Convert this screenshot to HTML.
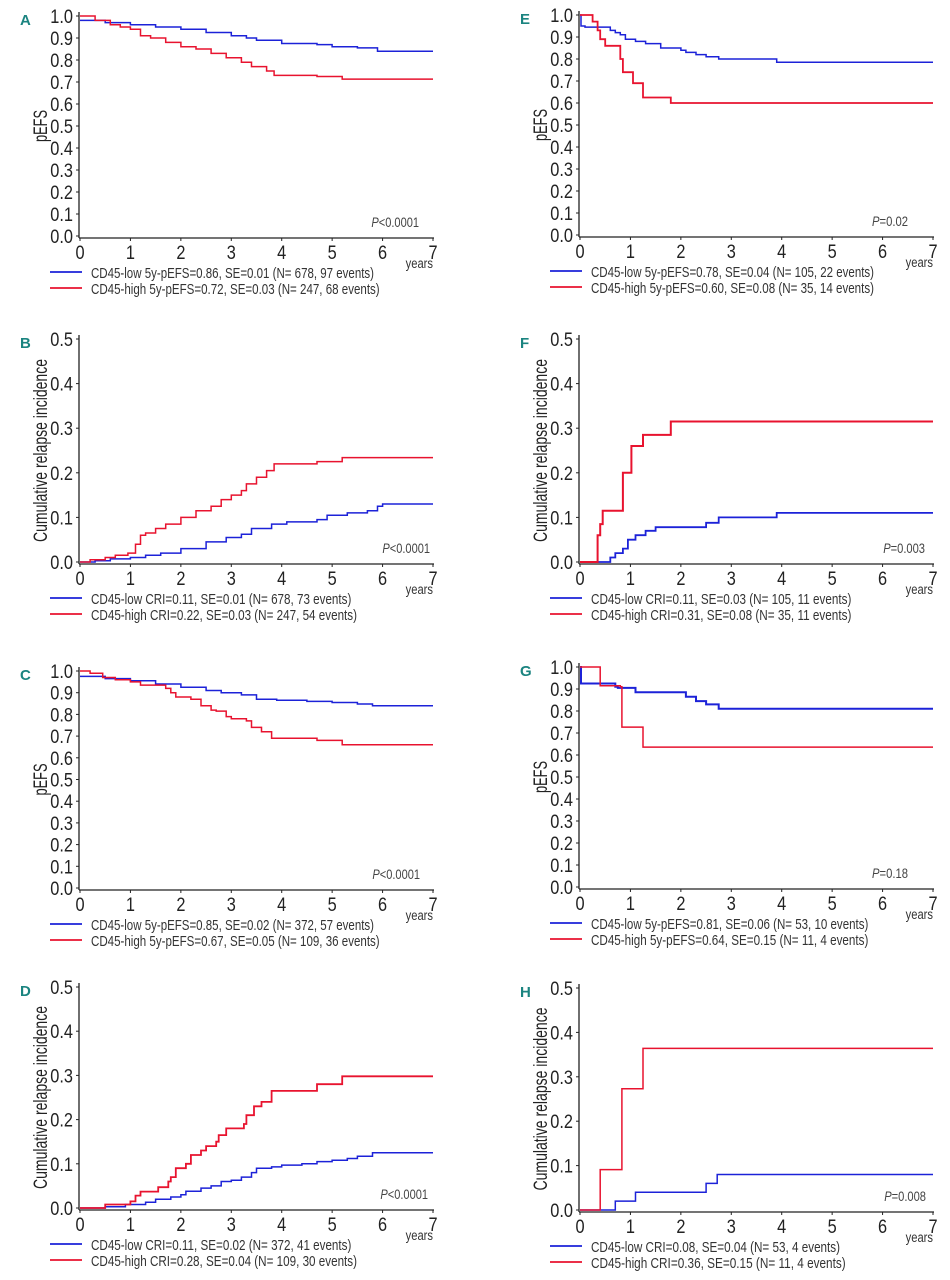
<!DOCTYPE html>
<html><head><meta charset="utf-8">
<style>
html,body{margin:0;padding:0;background:#fff;}
svg{display:block;}
text{font-family:"Liberation Sans Narrow","Liberation Sans",sans-serif;}
</style></head>
<body>
<svg id="fig" width="950" height="1280" viewBox="0 0 950 1280" xmlns="http://www.w3.org/2000/svg"></svg>
<script>
// ---- data (time in years, value) ----
const xTicks = [0,1,2,3,4,5,6,7];
const efsTicks = [0,0.1,0.2,0.3,0.4,0.5,0.6,0.7,0.8,0.9,1.0];
const criTicks = [0,0.1,0.2,0.3,0.4,0.5];

const aLowT  = [0,0.5,1,1.5,2,2.5,3,3.3,3.5,4,4.7,5,5.5,5.9,7];
const aLowV  = [0.98,0.97,0.96,0.95,0.94,0.925,0.91,0.90,0.89,0.875,0.87,0.86,0.855,0.84,0.84];
const aHighT = [0,0.3,0.6,0.8,1.0,1.2,1.4,1.7,2,2.3,2.6,2.9,3.2,3.4,3.7,3.85,4.7,5.2,7];
const aHighV = [1.0,0.98,0.96,0.95,0.94,0.91,0.90,0.88,0.86,0.85,0.83,0.81,0.79,0.77,0.75,0.73,0.725,0.713,0.713];

const bLowT  = [0,0.3,0.6,1.0,1.3,1.6,2.0,2.5,2.9,3.2,3.4,3.8,4.1,4.7,4.9,5.3,5.7,5.9,6.0,7];
const bLowV  = [0,0.003,0.007,0.01,0.015,0.02,0.03,0.045,0.055,0.062,0.075,0.085,0.09,0.095,0.105,0.11,0.115,0.125,0.13,0.13];
const bHighT = [0,0.2,0.5,0.7,0.95,1.1,1.2,1.3,1.5,1.7,2.0,2.3,2.6,2.8,3.0,3.2,3.3,3.5,3.7,3.85,4.7,5.2,7];
const bHighV = [0,0.005,0.01,0.015,0.02,0.04,0.06,0.065,0.075,0.085,0.10,0.115,0.125,0.14,0.15,0.16,0.175,0.19,0.205,0.22,0.225,0.234,0.234];

const cLowT  = [0,0.5,1,1.5,2,2.5,2.8,3.2,3.5,3.9,4.5,5,5.5,5.8,7];
const cLowV  = [0.975,0.965,0.955,0.94,0.925,0.91,0.90,0.89,0.87,0.865,0.86,0.855,0.848,0.84,0.84];
const cHighT = [0,0.2,0.45,0.7,1.0,1.2,1.7,1.8,1.9,2.2,2.4,2.6,2.7,2.9,3.0,3.3,3.4,3.6,3.8,4.7,5.2,7];
const cHighV = [1.0,0.99,0.97,0.96,0.95,0.935,0.92,0.90,0.88,0.87,0.84,0.82,0.815,0.79,0.78,0.77,0.74,0.72,0.69,0.68,0.66,0.66];

const dLowT  = [0,0.5,0.9,1.3,1.5,1.8,2.0,2.1,2.4,2.6,2.8,3.0,3.2,3.4,3.5,3.8,4.0,4.4,4.7,5.0,5.3,5.5,5.8,7];
const dLowV  = [0,0.003,0.008,0.013,0.02,0.025,0.03,0.038,0.045,0.05,0.06,0.063,0.07,0.08,0.09,0.093,0.097,0.1,0.105,0.108,0.112,0.117,0.125,0.125];
const dHighT = [0,0.5,1.0,1.1,1.2,1.55,1.75,1.8,1.9,2.1,2.2,2.4,2.5,2.7,2.75,2.9,3.25,3.3,3.45,3.6,3.8,4.7,5.2,7];
const dHighV = [0,0.008,0.015,0.028,0.037,0.047,0.06,0.07,0.09,0.10,0.12,0.13,0.14,0.15,0.165,0.18,0.19,0.21,0.23,0.24,0.265,0.28,0.298,0.298];

const eLowT  = [0,0.02,0.1,0.6,0.7,0.8,0.9,1.1,1.3,1.6,2.0,2.1,2.3,2.5,2.75,3.9,7];
const eLowV  = [1.0,0.95,0.945,0.93,0.92,0.91,0.89,0.88,0.87,0.85,0.84,0.83,0.82,0.81,0.80,0.785,0.785];
const eHighT = [0,0.25,0.35,0.4,0.5,0.8,0.85,1.05,1.25,1.8,7];
const eHighV = [1.0,0.97,0.93,0.89,0.86,0.80,0.74,0.69,0.625,0.60,0.60];

const fLowT  = [0,0.6,0.7,0.85,0.95,1.1,1.3,1.5,2.5,2.75,3.9,7];
const fLowV  = [0,0.01,0.02,0.03,0.05,0.06,0.07,0.078,0.088,0.10,0.11,0.11];
const fHighT = [0,0.35,0.4,0.45,0.85,1.02,1.25,1.8,7];
const fHighV = [0,0.06,0.085,0.115,0.2,0.26,0.285,0.315,0.315];

const gLowT  = [0,0.02,0.7,0.75,1.1,2.1,2.3,2.5,2.75,7];
const gLowV  = [1.0,0.925,0.91,0.905,0.885,0.865,0.845,0.83,0.81,0.81];
const gHighT = [0,0.4,0.8,0.83,1.25,7];
const gHighV = [1.0,0.915,0.91,0.727,0.636,0.636];

const hLowT  = [0,0.7,1.1,2.5,2.72,7];
const hLowV  = [0,0.02,0.04,0.06,0.08,0.08];
const hHighT = [0,0.4,0.83,1.25,7];
const hHighV = [0,0.091,0.273,0.364,0.364];

const NS = "http://www.w3.org/2000/svg";
const svg = document.getElementById('fig');
const BLUE = "#1c22d8", RED = "#e8132f";

function mk(tag, attrs, parent){
  const e = document.createElementNS(NS, tag);
  for (const k in attrs) e.setAttribute(k, attrs[k]);
  (parent||svg).appendChild(e);
  return e;
}
function txt(s, attrs, parent){
  const e = mk('text', attrs, parent);
  e.textContent = s;
  return e;
}
function ctxt(s, x, y, attrs, parent, sx){
  const a = Object.assign({x: 0, y: 0, transform: `translate(${x},${y}) scale(${sx||0.86},1)`}, attrs);
  return txt(s, a, parent);
}

function panel(cfg){
  const g = mk('g', {});
  
  
  const x0 = cfg.x0, xw = 353, yTop = cfg.yTop, yBot = cfg.yBot, yMax = cfg.yMax;
  const X = t => x0 + t / 7 * xw;
  const Y = v => yBot - v / yMax * (yBot - yTop);

  const L = txt(cfg.letter, {x: x0 - 60, y: yTop + 9, 'font-size': 15, 'font-weight': 'bold', fill: '#1b8480', 'font-family': '"Liberation Sans", sans-serif'}, g);
  
  

  const ya = mk('line', {x1: x0 - 1, y1: yTop - 4, x2: x0 - 1, y2: yBot + 2, stroke: '#222', 'stroke-width': 1.3}, g);
  
  
  const xa = mk('line', {x1: x0 - 1, y1: yBot + 2, x2: x0 + xw + 1, y2: yBot + 2, stroke: '#222', 'stroke-width': 1.3}, g);
  
  

  cfg.yTicks.forEach(v => {
    mk('line', {x1: x0 - 4, y1: Y(v), x2: x0 - 1, y2: Y(v), stroke: '#222', 'stroke-width': 1}, g);
    const t = ctxt(v.toFixed(1), x0 - 7, Y(v) + 7, {'font-size': 19, 'text-anchor': 'end', fill: '#222'}, g);
    
    
  });
  xTicks.forEach(v => {
    mk('line', {x1: X(v), y1: yBot + 2, x2: X(v), y2: yBot + 5, stroke: '#222', 'stroke-width': 1}, g);
    const t = ctxt(String(v), X(v), yBot + 23, {'font-size': 19, 'text-anchor': 'middle', fill: '#222'}, g);
    
    
  });
  const yr = ctxt('years', x0 + xw, yBot + 32, {'font-size': 14, 'text-anchor': 'end', fill: '#333'}, g, 0.8);
  
  

  const cy = (yTop + yBot) / 2;
  const isCri = cfg.ytitle.length > 6;
  const yt = txt(cfg.ytitle, {x: 0, y: 0, 'font-size': 19, 'text-anchor': 'middle', fill: '#222',
    textLength: isCri ? 183 : 32, lengthAdjust: 'spacingAndGlyphs',
    transform: `translate(${x0 - 33},${cy}) rotate(-90)`}, g);
  
  

  const pv = txt('', {x: x0 + cfg.pX, y: yBot - 9, 'font-size': 14, 'text-anchor': 'end', fill: '#444',
    textLength: cfg.p.length * 5.8 + 7, lengthAdjust: 'spacingAndGlyphs'}, g);
  
  
  const pi = document.createElementNS(NS, 'tspan'); pi.setAttribute('font-style', 'italic'); pi.textContent = 'P'; pv.appendChild(pi);
  const pr = document.createElementNS(NS, 'tspan'); pr.textContent = cfg.p; pv.appendChild(pr);

  function step(T, V, color, w, name){
    let d = `M${X(T[0]).toFixed(1)},${Y(V[0]).toFixed(1)}`;
    for (let i = 1; i < T.length; i++){
      d += ` H${X(T[i]).toFixed(1)} V${Y(V[i]).toFixed(1)}`;
    }
    const p = mk('path', {d: d, fill: 'none', stroke: color, 'stroke-width': w}, g);
    
    
  }
  step(cfg.lowT, cfg.lowV, BLUE, cfg.wl, 'cd45-low-curve');
  step(cfg.highT, cfg.highV, RED, cfg.wh, 'cd45-high-curve');

  const ly1 = yBot + 36, ly2 = yBot + 52;
  const l1 = mk('line', {x1: x0 - 30, y1: ly1, x2: x0 + 2, y2: ly1, stroke: BLUE, 'stroke-width': 1.8}, g);
  
  
  const t1 = txt(cfg.leg1, {x: x0 + 11, y: ly1 + 6, 'font-size': 15, fill: '#333',
    textLength: cfg.leg1.length * 5.66, lengthAdjust: 'spacingAndGlyphs'}, g);
  
  
  const l2 = mk('line', {x1: x0 - 30, y1: ly2, x2: x0 + 2, y2: ly2, stroke: RED, 'stroke-width': 1.8}, g);
  
  
  const t2 = txt(cfg.leg2, {x: x0 + 11, y: ly2 + 6, 'font-size': 15, fill: '#333',
    textLength: cfg.leg2.length * 5.66, lengthAdjust: 'spacingAndGlyphs'}, g);
  
  
}

const EFS = 'pEFS', CRI = 'Cumulative relapse incidence';
panel({letter:'A', x0:80, yTop:16, yBot:236, yMax:1, yTicks:efsTicks, ytitle:EFS, p:'<0.0001', pX:339,
  lowT:aLowT, lowV:aLowV, highT:aHighT, highV:aHighV, wl:1.5, wh:1.5,
  leg1:'CD45-low 5y-pEFS=0.86, SE=0.01 (N= 678, 97 events)', leg2:'CD45-high 5y-pEFS=0.72, SE=0.03 (N= 247, 68 events)'});
panel({letter:'B', x0:80, yTop:339, yBot:562, yMax:0.5, yTicks:criTicks, ytitle:CRI, p:'<0.0001', pX:350,
  lowT:bLowT, lowV:bLowV, highT:bHighT, highV:bHighV, wl:1.5, wh:1.5,
  leg1:'CD45-low CRI=0.11, SE=0.01 (N= 678, 73 events)', leg2:'CD45-high CRI=0.22, SE=0.03 (N= 247, 54 events)'});
panel({letter:'C', x0:80, yTop:671, yBot:888, yMax:1, yTicks:efsTicks, ytitle:EFS, p:'<0.0001', pX:340,
  lowT:cLowT, lowV:cLowV, highT:cHighT, highV:cHighV, wl:1.5, wh:1.5,
  leg1:'CD45-low 5y-pEFS=0.85, SE=0.02 (N= 372, 57 events)', leg2:'CD45-high 5y-pEFS=0.67, SE=0.05 (N= 109, 36 events)'});
panel({letter:'D', x0:80, yTop:987, yBot:1208, yMax:0.5, yTicks:criTicks, ytitle:CRI, p:'<0.0001', pX:348,
  lowT:dLowT, lowV:dLowV, highT:dHighT, highV:dHighV, wl:1.5, wh:1.8,
  leg1:'CD45-low CRI=0.11, SE=0.02 (N= 372, 41 events)', leg2:'CD45-high CRI=0.28, SE=0.04 (N= 109, 30 events)'});
panel({letter:'E', x0:580, yTop:15, yBot:235, yMax:1, yTicks:efsTicks, ytitle:EFS, p:'=0.02', pX:328,
  lowT:eLowT, lowV:eLowV, highT:eHighT, highV:eHighV, wl:1.5, wh:1.8,
  leg1:'CD45-low 5y-pEFS=0.78, SE=0.04 (N= 105, 22 events)', leg2:'CD45-high 5y-pEFS=0.60, SE=0.08 (N= 35, 14 events)'});
panel({letter:'F', x0:580, yTop:339, yBot:562, yMax:0.5, yTicks:criTicks, ytitle:CRI, p:'=0.003', pX:345,
  lowT:fLowT, lowV:fLowV, highT:fHighT, highV:fHighV, wl:1.8, wh:2,
  leg1:'CD45-low CRI=0.11, SE=0.03 (N= 105, 11 events)', leg2:'CD45-high CRI=0.31, SE=0.08 (N= 35, 11 events)'});
panel({letter:'G', x0:580, yTop:667, yBot:887, yMax:1, yTicks:efsTicks, ytitle:EFS, p:'=0.18', pX:328,
  lowT:gLowT, lowV:gLowV, highT:gHighT, highV:gHighV, wl:2, wh:1.5,
  leg1:'CD45-low 5y-pEFS=0.81, SE=0.06 (N= 53, 10 events)', leg2:'CD45-high 5y-pEFS=0.64, SE=0.15 (N= 11, 4 events)'});
panel({letter:'H', x0:580, yTop:988, yBot:1210, yMax:0.5, yTicks:criTicks, ytitle:CRI, p:'=0.008', pX:346,
  lowT:hLowT, lowV:hLowV, highT:hHighT, highV:hHighV, wl:1.5, wh:1.5,
  leg1:'CD45-low CRI=0.08, SE=0.04 (N= 53, 4 events)', leg2:'CD45-high CRI=0.36, SE=0.15 (N= 11, 4 events)'});
</script>
</body></html>
